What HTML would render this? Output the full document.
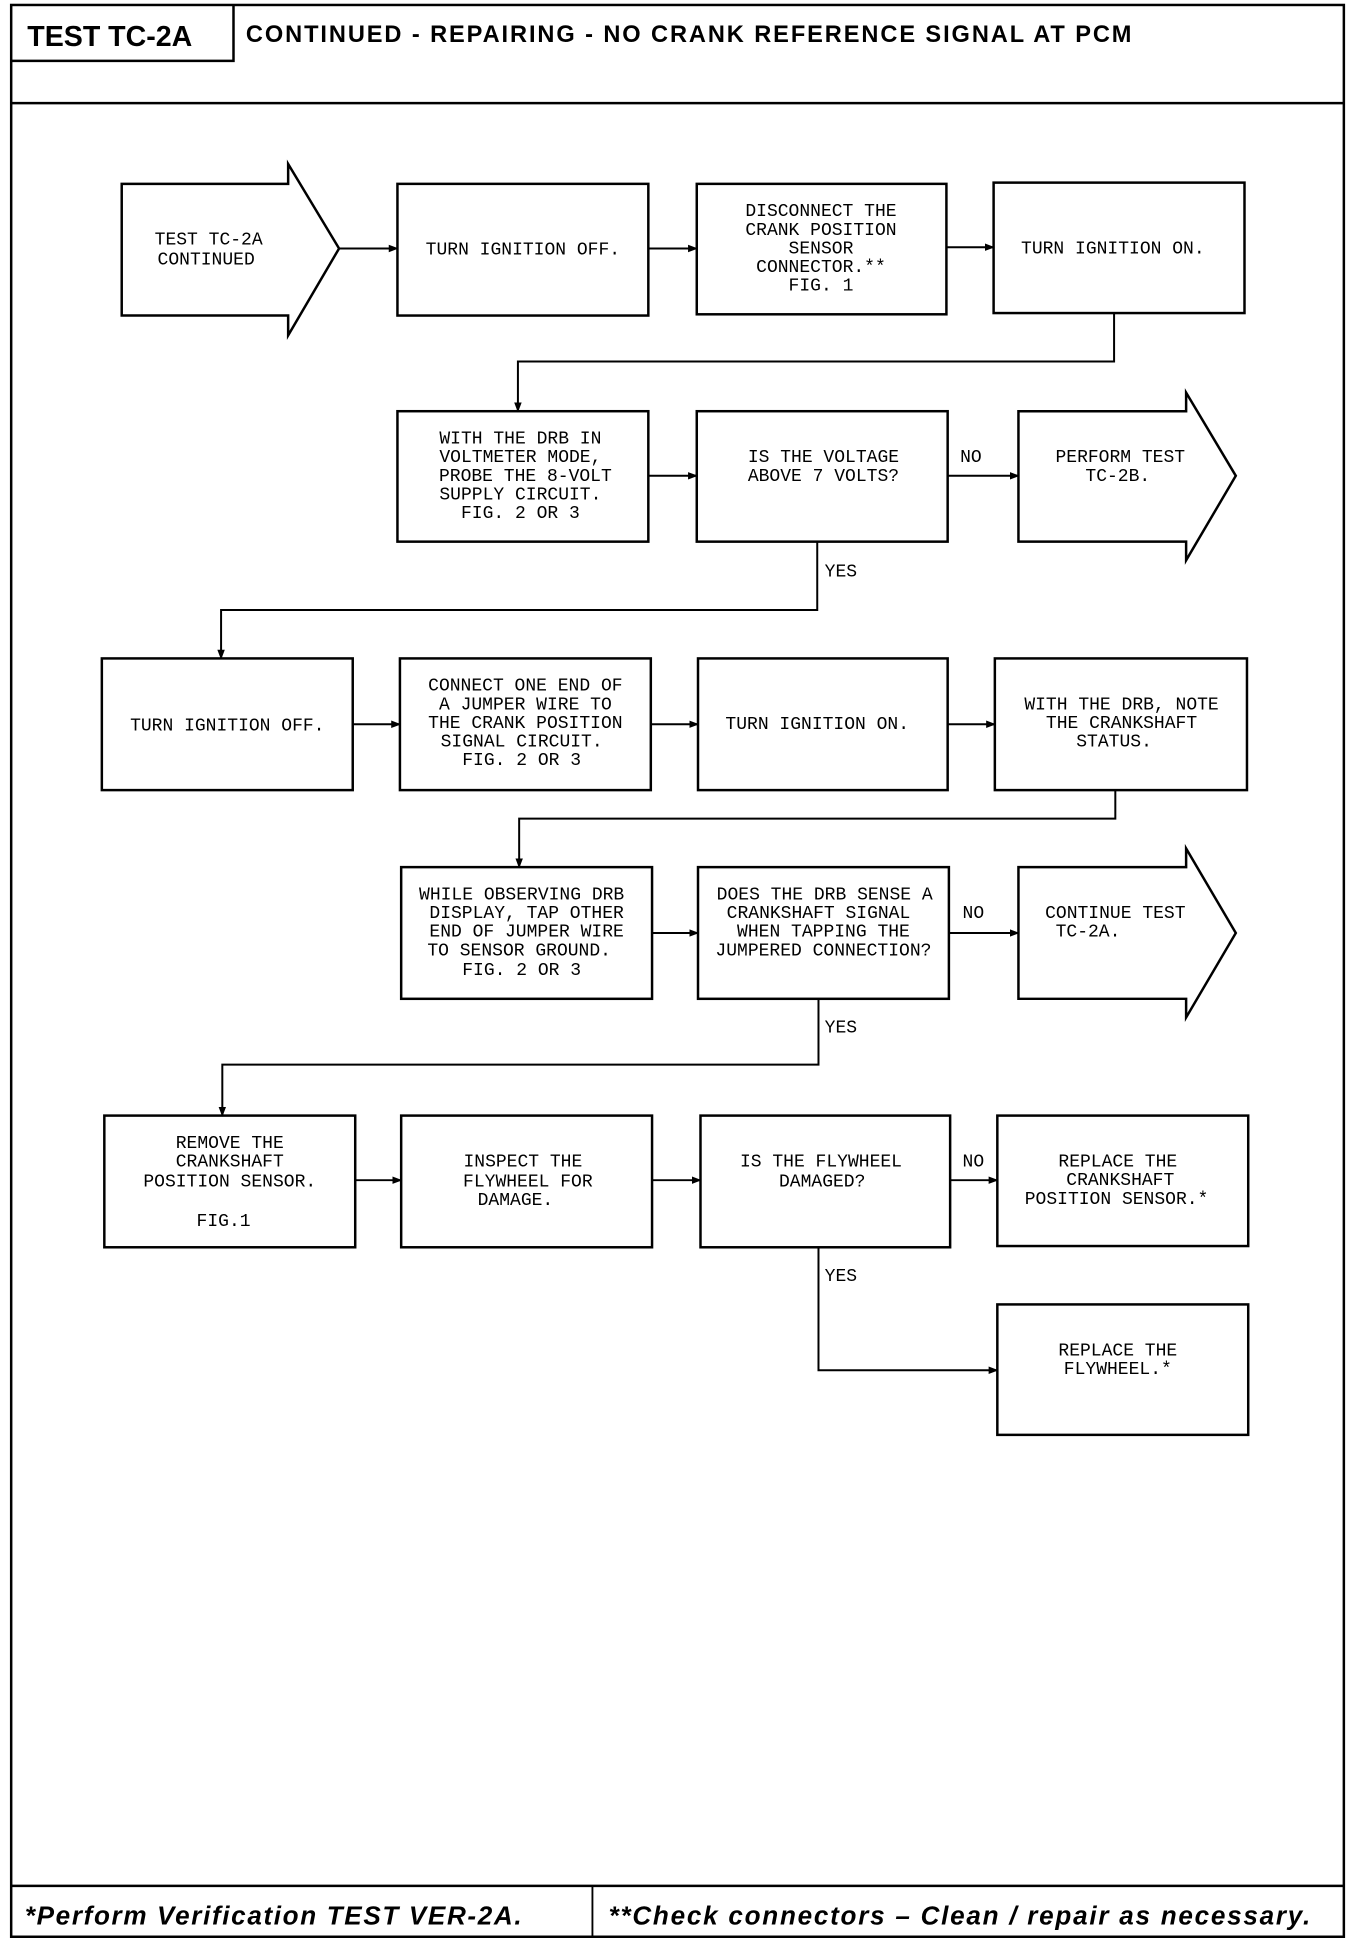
<!DOCTYPE html>
<html><head><meta charset="utf-8"><style>
html,body{margin:0;padding:0;background:#fff;}
svg{display:block;}
.t{font-family:"Liberation Mono",monospace;font-size:14.5px;fill:#000;text-anchor:middle;}
.l{font-family:"Liberation Mono",monospace;font-size:14.5px;fill:#000;}
.b{fill:none;stroke:#000;stroke-width:2;}
.c{fill:none;stroke:#000;stroke-width:1.6;}
</style></head><body>
<svg width="1360" height="1938" viewBox="0 0 1095 1560" preserveAspectRatio="none" xmlns="http://www.w3.org/2000/svg">
<defs><marker id="a" markerWidth="8" markerHeight="8" refX="7" refY="4" orient="auto" markerUnits="userSpaceOnUse"><path d="M0,1 L8,4 L0,7 z" fill="#000"/></marker></defs>
<rect x="0" y="0" width="1095" height="1560" fill="#fff"/>
<!-- frame -->
<rect x="9" y="4" width="1073" height="1555" class="b"/>
<path d="M9,49 H188 V4" class="b"/>
<line x1="9" y1="83" x2="1082" y2="83" class="b"/>
<line x1="9" y1="1518" x2="1082" y2="1518" class="b"/>
<line x1="477" y1="1518" x2="477" y2="1559" stroke="#000" stroke-width="1.5"/>
<text x="22" y="37" style="font-family:'Liberation Sans',sans-serif;font-weight:bold;font-size:23px">TEST TC-2A</text>
<text x="198" y="34" style="font-family:'Liberation Sans',sans-serif;font-weight:bold;font-size:19px" textLength="713">CONTINUED - REPAIRING - NO CRANK REFERENCE SIGNAL AT PCM</text>
<text x="20" y="1549" style="font-family:'Liberation Sans',sans-serif;font-weight:bold;font-style:italic;font-size:21px" textLength="400">*Perform Verification TEST VER-2A.</text>
<text x="490" y="1549" style="font-family:'Liberation Sans',sans-serif;font-weight:bold;font-style:italic;font-size:21px" textLength="565">**Check connectors – Clean / repair as necessary.</text>

<!-- Row 1 -->
<path d="M98,148 H232 V132 L273,200 L232,270 V254 H98 Z" class="b"/>
<text class="t" x="168" y="197">TEST TC-2A</text>
<text class="t" x="166" y="213">CONTINUED</text>
<line x1="273" y1="200" x2="320" y2="200" class="c" marker-end="url(#a)"/>
<rect x="320" y="148" width="202" height="106" class="b"/>
<text class="t" x="421" y="205">TURN IGNITION OFF.</text>
<line x1="522" y1="200" x2="561" y2="200" class="c" marker-end="url(#a)"/>
<rect x="561" y="148" width="201" height="105" class="b"/>
<text class="t" x="661" y="174">DISCONNECT THE</text>
<text class="t" x="661" y="189">CRANK POSITION</text>
<text class="t" x="661" y="204">SENSOR</text>
<text class="t" x="661" y="219">CONNECTOR.**</text>
<text class="t" x="661" y="234">FIG. 1</text>
<line x1="762" y1="199" x2="800" y2="199" class="c" marker-end="url(#a)"/>
<rect x="800" y="147" width="202" height="105" class="b"/>
<text class="t" x="896" y="204">TURN IGNITION ON.</text>
<path d="M897,252 V291 H417 V331" class="c" marker-end="url(#a)"/>

<!-- Row 2 -->
<rect x="320" y="331" width="202" height="105" class="b"/>
<text class="t" x="419" y="357">WITH THE DRB IN</text>
<text class="t" x="419" y="372">VOLTMETER MODE,</text>
<text class="t" x="423" y="387">PROBE THE 8-VOLT</text>
<text class="t" x="419" y="402">SUPPLY CIRCUIT.</text>
<text class="t" x="419" y="417">FIG. 2 OR 3</text>
<line x1="522" y1="383" x2="561" y2="383" class="c" marker-end="url(#a)"/>
<rect x="561" y="331" width="202" height="105" class="b"/>
<text class="t" x="663" y="372">IS THE VOLTAGE</text>
<text class="t" x="663" y="387">ABOVE 7 VOLTS?</text>
<line x1="763" y1="383" x2="820" y2="383" class="c" marker-end="url(#a)"/>
<text class="l" x="773" y="372">NO</text>
<path d="M820,331 H955 V316 L995,383 L955,451 V436 H820 Z" class="b"/>
<text class="t" x="902" y="372">PERFORM TEST</text>
<text class="t" x="900" y="387">TC-2B.</text>
<text class="l" x="664" y="464">YES</text>
<path d="M658,436 V491 H178 V530" class="c" marker-end="url(#a)"/>

<!-- Row 3 -->
<rect x="82" y="530" width="202" height="106" class="b"/>
<text class="t" x="183" y="588">TURN IGNITION OFF.</text>
<line x1="284" y1="583" x2="322" y2="583" class="c" marker-end="url(#a)"/>
<rect x="322" y="530" width="202" height="106" class="b"/>
<text class="t" x="423" y="556">CONNECT ONE END OF</text>
<text class="t" x="423" y="571">A JUMPER WIRE TO</text>
<text class="t" x="423" y="586">THE CRANK POSITION</text>
<text class="t" x="420" y="601">SIGNAL CIRCUIT.</text>
<text class="t" x="420" y="616">FIG. 2 OR 3</text>
<line x1="524" y1="583" x2="562" y2="583" class="c" marker-end="url(#a)"/>
<rect x="562" y="530" width="201" height="106" class="b"/>
<text class="t" x="658" y="587">TURN IGNITION ON.</text>
<line x1="763" y1="583" x2="801" y2="583" class="c" marker-end="url(#a)"/>
<rect x="801" y="530" width="203" height="106" class="b"/>
<text class="t" x="903" y="571">WITH THE DRB, NOTE</text>
<text class="t" x="903" y="586">THE CRANKSHAFT</text>
<text class="t" x="897" y="601">STATUS.</text>
<path d="M898,636 V659 H418 V698" class="c" marker-end="url(#a)"/>

<!-- Row 4 -->
<rect x="323" y="698" width="202" height="106" class="b"/>
<text class="t" x="420" y="724">WHILE OBSERVING DRB</text>
<text class="t" x="424" y="739">DISPLAY, TAP OTHER</text>
<text class="t" x="424" y="754">END OF JUMPER WIRE</text>
<text class="t" x="418" y="769">TO SENSOR GROUND.</text>
<text class="t" x="420" y="785">FIG. 2 OR 3</text>
<line x1="525" y1="751" x2="562" y2="751" class="c" marker-end="url(#a)"/>
<rect x="562" y="698" width="202" height="106" class="b"/>
<text class="t" x="664" y="724">DOES THE DRB SENSE A</text>
<text class="t" x="659" y="739">CRANKSHAFT SIGNAL</text>
<text class="t" x="663" y="754">WHEN TAPPING THE</text>
<text class="t" x="663" y="769">JUMPERED CONNECTION?</text>
<line x1="764" y1="751" x2="820" y2="751" class="c" marker-end="url(#a)"/>
<text class="l" x="775" y="739">NO</text>
<path d="M820,698 H955 V683 L995,751 L955,819 V804 H820 Z" class="b"/>
<text class="t" x="898" y="739">CONTINUE TEST</text>
<text class="t" x="876" y="754">TC-2A.</text>
<text class="l" x="664" y="831">YES</text>
<path d="M659,804 V857 H179 V898" class="c" marker-end="url(#a)"/>

<!-- Row 5 -->
<rect x="84" y="898" width="202" height="106" class="b"/>
<text class="t" x="185" y="924">REMOVE THE</text>
<text class="t" x="185" y="939">CRANKSHAFT</text>
<text class="t" x="185" y="955">POSITION SENSOR.</text>
<text class="t" x="180" y="987">FIG.1</text>
<line x1="286" y1="950" x2="323" y2="950" class="c" marker-end="url(#a)"/>
<rect x="323" y="898" width="202" height="106" class="b"/>
<text class="t" x="421" y="939">INSPECT THE</text>
<text class="t" x="425" y="955">FLYWHEEL FOR</text>
<text class="t" x="415" y="970">DAMAGE.</text>
<line x1="525" y1="950" x2="564" y2="950" class="c" marker-end="url(#a)"/>
<rect x="564" y="898" width="201" height="106" class="b"/>
<text class="t" x="661" y="939">IS THE FLYWHEEL</text>
<text class="t" x="662" y="955">DAMAGED?</text>
<line x1="765" y1="950" x2="803" y2="950" class="c" marker-end="url(#a)"/>
<text class="l" x="775" y="939">NO</text>
<rect x="803" y="898" width="202" height="105" class="b"/>
<text class="t" x="900" y="939">REPLACE THE</text>
<text class="t" x="902" y="954">CRANKSHAFT</text>
<text class="t" x="899" y="969">POSITION SENSOR.*</text>
<text class="l" x="664" y="1031">YES</text>
<path d="M659,1004 V1103 H803" class="c" marker-end="url(#a)"/>
<rect x="803" y="1050" width="202" height="105" class="b"/>
<text class="t" x="900" y="1091">REPLACE THE</text>
<text class="t" x="900" y="1106">FLYWHEEL.*</text>
</svg>
</body></html>
